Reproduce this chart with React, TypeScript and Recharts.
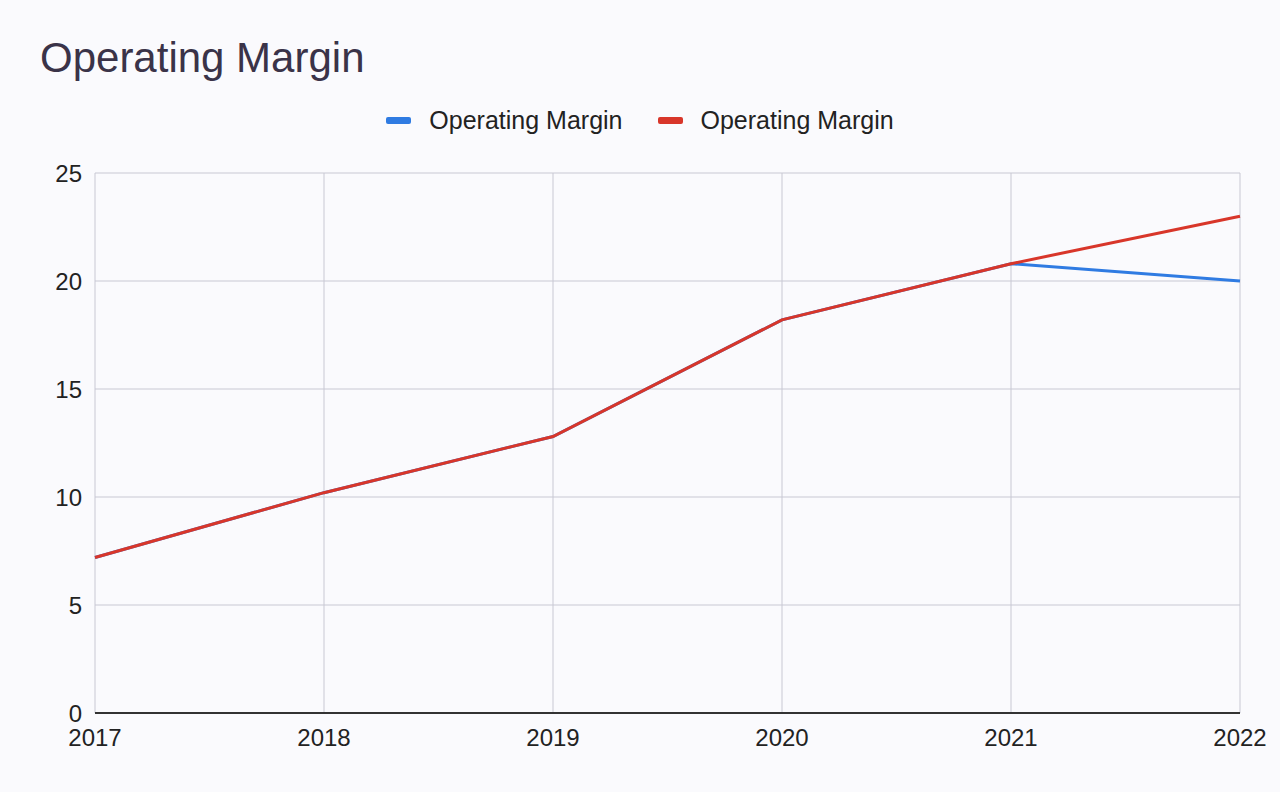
import React from "react";
import {
  LineChart,
  Line,
  XAxis,
  YAxis,
  CartesianGrid,
} from "recharts";

const years = ["2017", "2018", "2019", "2020", "2021", "2022"];
const blueMargin = [7.2, 10.2, 12.8, 18.2, 20.8, 20.0];
const redMargin = [7.2, 10.2, 12.8, 18.2, 20.8, 23.0];
const yTicks = [0, 5, 10, 15, 20, 25];

const data = years.map((year, i) => ({
  year,
  blue: blueMargin[i],
  red: redMargin[i],
}));

const FONT = "'Liberation Sans', Arial, sans-serif";

const legendItems = [
  { label: "Operating Margin", color: "#2f7be2" },
  { label: "Operating Margin", color: "#d8362a" },
];

const LegendBox = () => (
  <div
    style={{
      position: "absolute",
      top: 106,
      left: 0,
      width: 1280,
      display: "flex",
      justifyContent: "center",
      alignItems: "center",
      gap: 35,
      fontFamily: FONT,
      fontSize: 25,
      color: "#222",
    }}
  >
    {legendItems.map((item, i) => (
      <div key={i} style={{ display: "flex", alignItems: "center" }}>
        <span
          style={{
            display: "inline-block",
            width: 25,
            height: 7,
            borderRadius: 2,
            background: item.color,
            marginRight: 18,
          }}
        />
        {item.label}
      </div>
    ))}
  </div>
);

export default function App() {
  return (
    <div
      style={{
        position: "absolute",
        left: 0,
        top: 0,
        width: 1280,
        height: 792,
        background: "#fafafd",
      }}
    >
      <div
        style={{
          position: "absolute",
          left: 40,
          top: 34,
          fontFamily: FONT,
          fontSize: 42,
          color: "#3a3348",
        }}
      >
        Operating Margin
      </div>
      <LegendBox />
      <LineChart
        width={1280}
        height={792}
        data={data}
        margin={{ top: 173, right: 40, bottom: 0, left: 0 }}
      >
        <CartesianGrid stroke="#c8c8d3" strokeWidth={1} />
        <XAxis
          dataKey="year"
          height={79}
          tickLine={false}
          axisLine={{ stroke: "#333", strokeWidth: 2 }}
          tickMargin={10}
          tick={{ fill: "#222", fontSize: 24, fontFamily: FONT }}
          interval={0}
        />
        <YAxis
          width={95}
          domain={[0, 25]}
          ticks={yTicks}
          tickLine={false}
          axisLine={false}
          tickMargin={7}
          tick={{ fill: "#222", fontSize: 24, fontFamily: FONT }}
        />
        <Line
          dataKey="blue"
          stroke="#2f7be2"
          strokeWidth={3}
          dot={false}
          isAnimationActive={false}
        />
        <Line
          dataKey="red"
          stroke="#d8362a"
          strokeWidth={3}
          dot={false}
          isAnimationActive={false}
        />
      </LineChart>
    </div>
  );
}
